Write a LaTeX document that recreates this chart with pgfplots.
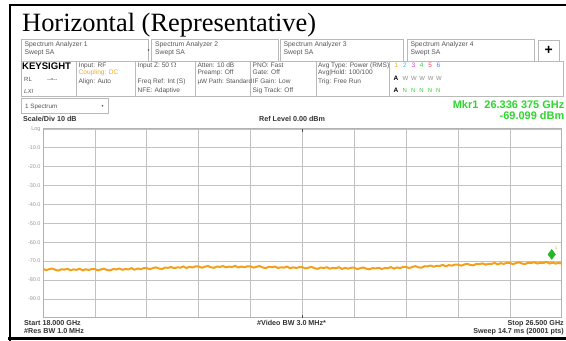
\documentclass[border=0pt]{standalone}
\usepackage{pgfplots}
\pgfplotsset{compat=1.18}
\usepackage{fontspec}
\setmainfont{Liberation Sans}
\newfontfamily\tnr{Liberation Serif}
\definecolor{trace}{RGB}{243,160,28}
\definecolor{mkgreen}{RGB}{45,215,45}
\definecolor{txt}{RGB}{85,85,85}
\definecolor{boxc}{RGB}{185,185,185}
\definecolor{tA}{RGB}{240,170,40}
\definecolor{tB}{RGB}{50,190,225}
\definecolor{tC}{RGB}{225,60,225}
\definecolor{tD}{RGB}{60,205,60}
\definecolor{tE}{RGB}{240,70,110}
\definecolor{tF}{RGB}{90,120,235}
\newcommand\fs[1]{\fontsize{#1}{#1}\selectfont}
\begin{document}
\begin{tikzpicture}
\begin{scope}[x=1bp,y=-1bp,every node/.style={inner sep=0pt,anchor=base west}]
\useasboundingbox (0,0) rectangle (566,340);
\fill[white] (0,0) rectangle (566,340);
% outer frame
\draw[line width=2.5bp] (10,345) -- (10,5) -- (575,5);
\draw[line width=3bp] (8,338.7) -- (575,338.7);
% title
\node at (22,31) {\tnr\fs{26.5}Horizontal (Representative)};
% tabs
\foreach \a/\b/\n in {21/148/1,151.5/278/2,280/403.5/3,407/534/4}{
  \draw[boxc,line width=0.6bp,fill=white] (\a,39) rectangle (\b,61);
  \node[text=txt] at (\a+3.5,46.3) {\fs{6.8}Spectrum Analyzer \n};
  \node[text=txt] at (\a+3.5,54.3) {\fs{6.8}Swept SA};
}
\fill[black!70] (148.5,50) circle (0.9);
\draw[boxc,line width=0.6bp,fill=white] (538,40) rectangle (559.5,61.5);
\node[anchor=center] at (548.7,50.5) {\fs{14}\bfseries +};
% info panel
\draw[boxc,line width=0.6bp] (21,61.5) rectangle (563,96.5);
\foreach \s in {76.7,135.7,195.5,250.5,316,389.5}{\draw[boxc,line width=0.6bp] (\s,61.5) -- (\s,96.5);}
\node at (22,69) {\fs{9.6}\bfseries KEYSIGHT};
\node[text=txt] at (24,81) {\fs{6}RL};
\node[text=txt] at (47,81) {\fs{6}-{}-\textbullet-{}-};
\node[text=txt] at (24,93) {\fs{6}\itshape LXI};
\node[text=txt] at (78.5,67) {\fs{6.6}Input: RF};
\node[text=tA] at (78.5,74.5) {\fs{6.6}Coupling: DC};
\node[text=txt] at (78.5,83.3) {\fs{6.6}Align: Auto};
\node[text=txt] at (137.5,67) {\fs{6.6}Input Z: 50 $\Omega$};
\node[text=txt] at (137.5,83.3) {\fs{6.6}Freq Ref: Int (S)};
\node[text=txt] at (137.5,92) {\fs{6.6}NFE: Adaptive};
\node[text=txt] at (197.3,67) {\fs{6.6}Atten: 10 dB};
\node[text=txt] at (197.3,74.5) {\fs{6.6}Preamp: Off};
\node[text=txt] at (197.3,83.3) {\fs{6.4}µW Path: Standard};
\node[text=txt] at (252.5,67) {\fs{6.6}PNO: Fast};
\node[text=txt] at (252.5,74.5) {\fs{6.6}Gate: Off};
\node[text=txt] at (252.5,83.3) {\fs{6.6}IF Gain: Low};
\node[text=txt] at (252.5,92) {\fs{6.6}Sig Track: Off};
\node[text=txt] at (318,67) {\fs{6.6}Avg Type: Power (RMS)};
\node[text=txt] at (318,74.5) {\fs{6.6}Avg|Hold: 100/100};
\node[text=txt] at (318,83.3) {\fs{6.6}Trig: Free Run};
\node[text=tA] at (394.5,67.5) {\fs{6.5}1};
\node[text=tB] at (402.9,67.5) {\fs{6.5}2};
\node[text=tC] at (411.3,67.5) {\fs{6.5}3};
\node[text=tD] at (419.7,67.5) {\fs{6.5}4};
\node[text=tE] at (428.1,67.5) {\fs{6.5}5};
\node[text=tF] at (436.5,67.5) {\fs{6.5}6};
\node at (393.5,80) {\fs{6.5}\bfseries A};
\node at (393.5,92) {\fs{6.5}\bfseries A};
\foreach \k in {1,...,5}{
  \node[text=black!45] at (394+8.4*\k,80) {\fs{6}W};
  \node[text=tD] at (394+8.4*\k,92) {\fs{6}N};
}
% dropdown
\draw[boxc,line width=0.6bp,fill=white] (21.5,98.5) rectangle (108,113.5);
\node[text=txt] at (25,108) {\fs{6.3}1 Spectrum};
\fill[black!70] (102.5,105.8) circle (0.9);
% marker readout
\node[anchor=base east,text=mkgreen] at (564.5,108) {\fs{11}\bfseries Mkr1\ \ 26.336 375 GHz};
\node[anchor=base east,text=mkgreen] at (564.5,119.5) {\fs{11}\bfseries -69.099 dBm};
\node[text=black!80] at (23,121.5) {\fs{7.2}\bfseries Scale/Div 10 dB};
\node[text=black!80] at (259,121.5) {\fs{7.2}\bfseries Ref Level 0.00 dBm};
% bottom annotations
\node[text=black!80] at (24,325) {\fs{7.2}\bfseries Start 18.000 GHz};
\node[text=black!80] at (24,333.7) {\fs{7.2}\bfseries \#Res BW 1.0 MHz};
\node[text=black!80] at (257,325) {\fs{7.2}\bfseries \#Video BW 3.0 MHz*};
\node[anchor=base east,text=black!80] at (564,325) {\fs{7.2}\bfseries Stop 26.500 GHz};
\node[anchor=base east,text=black!80] at (564,333.7) {\fs{7.2}\bfseries Sweep 14.7 ms (20001 pts)};
\end{scope}
\begin{axis}[
  at={(43bp,-317.8bp)}, anchor=south west,
  scale only axis, width=518.7bp, height=189bp,
  xmin=18, xmax=26.5, ymin=-100, ymax=0,
  xtick={18,18.85,19.7,20.55,21.4,22.25,23.1,23.95,24.8,25.65,26.5},
  xticklabels={},
  ytick={0,-10,-20,-30,-40,-50,-60,-70,-80,-90},
  yticklabels={Log,-10.0,-20.0,-30.0,-40.0,-50.0,-60.0,-70.0,-80.0,-90.0},
  grid=major,
  major grid style={draw=black!24,line width=0.6bp},
  axis line style={draw=black!30,line width=0.7bp},
  major tick length=0pt,
  yticklabel style={font=\fs{5.5},text=black!40,inner sep=0pt,xshift=-2.3bp},
  extra x ticks={22.25}, extra x tick labels={},
  extra x tick style={major tick length=3bp,tick style={draw=black!70,line width=0.7bp},grid=none},
]
\addplot[trace,line width=2bp,line join=round] coordinates {
(18.00,-74.1)(18.05,-74.8)(18.10,-74.3)(18.15,-73.9)(18.20,-74.6)(18.25,-75.0)(18.30,-74.3)(18.35,-74.5)(18.40,-74.1)(18.45,-74.8)
(18.50,-74.4)(18.55,-74.6)(18.60,-74.0)(18.65,-74.9)(18.70,-74.3)(18.75,-74.7)(18.80,-74.2)(18.85,-74.2)(18.90,-74.9)(18.95,-74.4)
(19.00,-74.0)(19.05,-74.7)(19.10,-74.9)(19.15,-74.2)(19.20,-74.4)(19.25,-73.9)(19.30,-74.6)(19.35,-74.2)(19.40,-74.4)(19.45,-73.7)
(19.50,-74.6)(19.55,-73.9)(19.60,-74.3)(19.65,-73.7)(19.70,-73.7)(19.75,-74.3)(19.80,-73.7)(19.85,-73.3)(19.90,-73.9)(19.95,-74.2)
(20.00,-73.4)(20.05,-73.55)(20.10,-73.1)(20.15,-73.75)(20.20,-73.3)(20.25,-73.45)(20.30,-72.8)(20.35,-73.65)(20.40,-73.0)(20.45,-73.35)
(20.50,-72.8)(20.55,-72.8)(20.60,-73.5)(20.65,-73.0)(20.70,-72.6)(20.75,-73.25)(20.80,-73.55)(20.85,-72.85)(20.90,-73.05)(20.95,-72.65)
(21.00,-73.3)(21.05,-72.9)(21.10,-73.1)(21.15,-72.5)(21.20,-73.4)(21.25,-72.85)(21.30,-73.25)(21.35,-72.75)(21.40,-72.75)(21.45,-73.45)
(21.50,-73.0)(21.55,-72.6)(21.60,-73.35)(21.65,-73.7)(21.70,-73.0)(21.75,-73.25)(21.80,-72.9)(21.85,-73.6)(21.90,-73.25)(21.95,-73.45)
(22.00,-72.9)(22.05,-73.8)(22.10,-73.25)(22.15,-73.65)(22.20,-73.2)(22.25,-73.2)(22.30,-73.9)(22.35,-73.45)(22.40,-73.05)(22.45,-73.8)
(22.50,-74.1)(22.55,-73.4)(22.60,-73.65)(22.65,-73.25)(22.70,-74.0)(22.75,-73.6)(22.80,-73.8)(22.85,-73.2)(22.90,-74.15)(22.95,-73.6)
(23.00,-74.0)(23.05,-73.5)(23.10,-73.5)(23.15,-74.25)(23.20,-73.75)(23.25,-73.35)(23.30,-74.05)(23.35,-74.35)(23.40,-73.7)(23.45,-73.9)
(23.50,-73.5)(23.55,-74.15)(23.60,-73.7)(23.65,-73.8)(23.70,-73.15)(23.75,-74.0)(23.80,-73.35)(23.85,-73.7)(23.90,-73.1)(23.95,-73.05)
(24.00,-73.7)(24.05,-73.1)(24.10,-72.65)(24.15,-73.25)(24.20,-73.5)(24.25,-72.7)(24.30,-72.8)(24.35,-72.35)(24.40,-72.95)(24.45,-72.5)
(24.50,-72.6)(24.55,-71.95)(24.60,-72.75)(24.65,-72.1)(24.70,-72.4)(24.75,-71.85)(24.80,-71.8)(24.85,-72.4)(24.90,-71.85)(24.95,-71.4)
(25.00,-72.0)(25.05,-72.25)(25.10,-71.5)(25.15,-71.65)(25.20,-71.2)(25.25,-71.85)(25.30,-71.4)(25.35,-71.55)(25.40,-70.9)(25.45,-71.75)
(25.50,-71.1)(25.55,-71.45)(25.60,-70.95)(25.65,-70.9)(25.70,-71.6)(25.75,-71.05)(25.80,-70.6)(25.85,-71.3)(25.90,-71.55)(25.95,-70.85)
(26.00,-71.0)(26.05,-70.6)(26.10,-71.3)(26.15,-70.85)(26.20,-71.0)(26.25,-70.4)(26.30,-71.3)(26.35,-70.8)(26.40,-71.3)(26.45,-71.0)(26.50,-71.2)
};
\addplot[only marks,mark=diamond*,mark size=5bp,color=mkgreen!85!black,mark options={yshift=5bp}] coordinates {(26.336,-69.099)};
\node[text=tA,inner sep=0pt] at (axis cs:26.336,-69.099) [xshift=4.5bp,yshift=11bp] {\fs{4.5}1};
\end{axis}
\end{tikzpicture}
\end{document}
